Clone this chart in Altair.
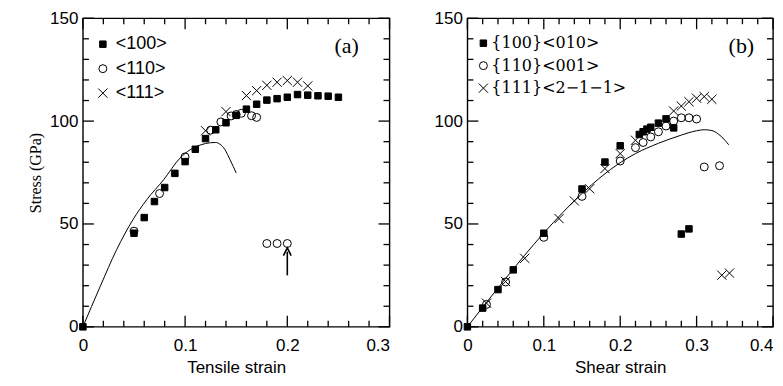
import altair as alt
import pandas as pd

# ---------------- Panel (a): tensile ----------------
a_series = ["<100>", "<110>", "<111>"]
a_sq_x = [0, 0.05, 0.06, 0.07, 0.08, 0.09, 0.10, 0.11, 0.12, 0.13, 0.14, 0.15, 0.16, 0.17, 0.18, 0.19, 0.20, 0.21, 0.22, 0.23, 0.24, 0.25]
a_sq_y = [0, 45.5, 53.1, 60.9, 67.7, 74.6, 80.3, 86.3, 91.5, 95.8, 99.2, 102.8, 105.8, 108.2, 110.2, 110.9, 111.6, 112.9, 112.6, 112.3, 112.1, 111.6]
a_ci_x = [0.05, 0.075, 0.10, 0.125, 0.135, 0.145, 0.15, 0.155, 0.165, 0.17, 0.18, 0.19, 0.20]
a_ci_y = [46.5, 64.8, 82.6, 95.6, 99.6, 102.5, 103.2, 103.8, 102.6, 101.8, 40.5, 40.5, 40.5]
a_cr_x = [0.12, 0.14, 0.16, 0.17, 0.18, 0.19, 0.20, 0.21, 0.22]
a_cr_y = [95.3, 104.6, 112.4, 114.8, 117.4, 118.9, 119.7, 118.9, 117.1]
a_curve_x = [0, 0.017, 0.033, 0.049, 0.0625, 0.079, 0.095, 0.105, 0.115, 0.125, 0.13, 0.134, 0.139, 0.144, 0.150]
a_curve_y = [0, 19.7, 37.5, 52.1, 61.8, 71.5, 82.0, 86.1, 88.4, 89.5, 89.6, 88.8, 86.1, 81.2, 74.8]
a_arrow_x = [0.2]
a_arrow_y = [25.0]
a_arrow_y2 = [36.5]
a_tag = ["(a)"]
a_tag_x = [0.258]
a_tag_y = [136.5]
a_x_major = [0, 0.1, 0.2, 0.3]
a_x_minor = [0.02, 0.04, 0.06, 0.08, 0.12, 0.14, 0.16, 0.18, 0.22, 0.24, 0.26, 0.28]

# ---------------- Panel (b): shear ----------------
b_series = ["{100}<010>", "{110}<001>", "{111}<2\u22121\u22121>"]
b_sq_x = [0, 0.02, 0.04, 0.06, 0.10, 0.15, 0.18, 0.20, 0.225, 0.23, 0.235, 0.24, 0.25, 0.26, 0.27, 0.28, 0.29]
b_sq_y = [0, 9.1, 18.1, 27.7, 45.5, 67.0, 80.1, 88.0, 93.5, 94.8, 96.1, 97.0, 99.0, 101.1, 96.7, 45.1, 47.6]
b_ci_x = [0.025, 0.05, 0.10, 0.15, 0.20, 0.22, 0.23, 0.24, 0.25, 0.26, 0.27, 0.28, 0.29, 0.30, 0.31, 0.33]
b_ci_y = [10.9, 21.8, 43.5, 63.4, 80.6, 87.1, 89.6, 92.3, 94.8, 97.6, 100.0, 101.6, 101.6, 101.0, 77.7, 78.3]
b_cr_x = [0.025, 0.05, 0.075, 0.12, 0.14, 0.16, 0.18, 0.20, 0.22, 0.27, 0.28, 0.29, 0.30, 0.31, 0.32, 0.333, 0.343]
b_cr_y = [11.5, 22.0, 33.3, 52.6, 61.2, 67.1, 76.9, 84.2, 90.7, 104.9, 107.3, 109.4, 111.1, 111.9, 110.6, 25.1, 26.1]
b_curve_x = [0, 0.05, 0.10, 0.15, 0.20, 0.22, 0.25, 0.28, 0.29, 0.30, 0.31, 0.32, 0.332, 0.342]
b_curve_y = [0, 23.5, 45.6, 64.8, 79.8, 84.2, 89.2, 93.2, 94.4, 95.3, 95.8, 95.4, 92.6, 88.5]
b_tag = ["(b)"]
b_tag_x = [0.3586]
b_tag_y = [136.5]
b_x_major = [0, 0.1, 0.2, 0.3, 0.4]
b_x_minor = [0.02, 0.04, 0.06, 0.08, 0.12, 0.14, 0.16, 0.18, 0.22, 0.24, 0.26, 0.28, 0.32, 0.34, 0.36, 0.38]

y_major = [0, 50, 100, 150]
y_minor = [10, 20, 30, 40, 60, 70, 80, 90, 110, 120, 130, 140]
y_dom = [0, 150]

SANS = "Liberation Sans"
SERIF = "Liberation Serif"
CROSS = "M-1,-1L1,1M-1,1L1,-1"
ARROWHEAD = "M-1,1L0,-1L1,1"
H = 309


def scatter_df(series, xs_list, ys_list):
    rows = []
    for s, xs, ys in zip(series, xs_list, ys_list):
        for x, y in zip(xs, ys):
            rows.append({"x": x, "y": y, "series": s})
    return pd.DataFrame(rows)


def label_axis_x(title, values, last):
    return alt.Axis(orient="bottom", values=values, format=".1~f", title=title,
                    ticks=False, domain=False, grid=False, labelFlush=False,
                    labelOverlap=False, labelPadding=11, labelFont=SANS,
                    labelFontSize=17, labelColor="black", titleFont=SANS,
                    titleFontSize=17, titleFontWeight="normal", titleColor="black",
                    titlePadding=6,
                    labelAlign={"condition": {"test": "datum.value > %s" % (last - 0.01),
                                              "value": "right"}, "value": "center"})


def label_axis_y(title, values):
    kw = dict(orient="left", values=values, format="d", ticks=False, domain=False,
              grid=False, labelOverlap=False, labelPadding=5, labelFont=SANS,
              labelFontSize=17, labelColor="black", labelFlush=False)
    if title:
        return alt.Axis(title=title, titleFont=SERIF, titleFontSize=16,
                        titleFontWeight="normal", titleColor="black",
                        titlePadding=6, **kw)
    return alt.Axis(title=None, **kw)


def tick_layers(xs, ys, xdom, x_major, x_minor):
    """Inward ticks on all four sides, positioned through the panel scales."""
    out = []
    for vals, ln in [(x_major, 11), (x_minor, 6)]:
        for edge, off in [(y_dom[0], -ln / 2), (y_dom[1], ln / 2)]:
            df = pd.DataFrame({"v": vals, "e": [edge] * len(vals)})
            out.append(alt.Chart(df).mark_tick(
                color="black", thickness=1.3, size=ln, orient="vertical", opacity=1,
                yOffset=off).encode(
                x=alt.X("v:Q", scale=xs, axis=None),
                y=alt.Y("e:Q", scale=ys, axis=None)))
    for vals, ln in [(y_major, 11), (y_minor, 6)]:
        for edge, off in [(xdom[0], ln / 2), (xdom[1], -ln / 2)]:
            df = pd.DataFrame({"v": vals, "e": [edge] * len(vals)})
            out.append(alt.Chart(df).mark_tick(
                color="black", thickness=1.3, size=ln, orient="horizontal", opacity=1,
                xOffset=off).encode(
                y=alt.Y("v:Q", scale=ys, axis=None),
                x=alt.X("e:Q", scale=xs, axis=None)))
    return out


def panel(series, shapes, sizes, fills, xs_list, ys_list, curve_x, curve_y,
          xdom, x_major, x_minor, xtitle, ytitle, tag, tag_x, tag_y,
          legend_x, legend_font, legend_fs, label_offset, W, extra=None):
    xs = alt.Scale(domain=xdom, nice=False, zero=False)
    ys = alt.Scale(domain=y_dom, nice=False, zero=False)
    sdf = scatter_df(series, xs_list, ys_list)
    cdf = pd.DataFrame({"x": curve_x, "y": curve_y})
    leg = alt.Legend(orient="none", legendX=legend_x, legendY=17, title=None,
                     padding=0, rowPadding=6.5, labelFont=legend_font,
                     labelFontSize=legend_fs, labelColor="black",
                     labelOffset=label_offset, symbolStrokeColor="black",
                     symbolStrokeWidth=1)
    pts = alt.Chart(sdf).mark_point(color="black", strokeWidth=1, opacity=1).encode(
        x=alt.X("x:Q", scale=xs, axis=label_axis_x(xtitle, x_major, xdom[1])),
        y=alt.Y("y:Q", scale=ys, axis=label_axis_y(ytitle, y_major)),
        shape=alt.Shape("series:N", scale=alt.Scale(domain=series, range=shapes), legend=leg),
        fill=alt.Fill("series:N", scale=alt.Scale(domain=series, range=fills), legend=leg),
        stroke=alt.Stroke("series:N", scale=alt.Scale(domain=series, range=["black"] * 3), legend=leg),
        size=alt.Size("series:N", scale=alt.Scale(domain=series, range=sizes), legend=leg),
    )
    curve = alt.Chart(cdf).mark_line(color="black", strokeWidth=1, interpolate="monotone").encode(
        x=alt.X("x:Q", scale=xs, axis=None),
        y=alt.Y("y:Q", scale=ys, axis=None),
    )
    tdf = pd.DataFrame({"x": tag_x, "y": tag_y, "t": tag})
    txt = alt.Chart(tdf).mark_text(font=SERIF, fontSize=22, color="black").encode(
        x=alt.X("x:Q", scale=xs, axis=None),
        y=alt.Y("y:Q", scale=ys, axis=None),
        text="t:N",
    )
    layers = [pts, curve, txt] + tick_layers(xs, ys, xdom, x_major, x_minor)
    if extra is not None:
        layers += extra(xs, ys)
    return alt.layer(*layers).resolve_axis(x="independent", y="independent").properties(
        width=W, height=H)


def arrow_layers(xs, ys):
    adf = pd.DataFrame({"x": a_arrow_x, "y": a_arrow_y, "y2": a_arrow_y2})
    shaft = alt.Chart(adf).mark_rule(color="black", strokeWidth=1.6).encode(
        x=alt.X("x:Q", scale=xs, axis=None),
        y=alt.Y("y:Q", scale=ys, axis=None),
        y2="y2:Q",
    )
    head = alt.Chart(adf).mark_point(shape=ARROWHEAD, filled=False, color="black",
                                     size=60, strokeWidth=1.6, opacity=1).encode(
        x=alt.X("x:Q", scale=xs, axis=None),
        y=alt.Y("y2:Q", scale=ys, axis=None),
    )
    return [shaft, head]


shapes = ["square", "circle", CROSS]
sizes = [42, 85, 42]
fills = ["black", "transparent", "transparent"]

pa = panel(a_series, shapes, sizes, fills, [a_sq_x, a_ci_x, a_cr_x], [a_sq_y, a_ci_y, a_cr_y],
           a_curve_x, a_curve_y, [0, 0.3], a_x_major, a_x_minor, "Tensile strain",
           "Stress (GPa)", a_tag, a_tag_x, a_tag_y, 11, SANS, 18, 4, 307, extra=arrow_layers)
pb = panel(b_series, shapes, sizes, fills, [b_sq_x, b_ci_x, b_cr_x], [b_sq_y, b_ci_y, b_cr_y],
           b_curve_x, b_curve_y, [0, 0.4], b_x_major, b_x_minor, "Shear strain",
           None, b_tag, b_tag_x, b_tag_y, 8, "DejaVu Serif", 16, 0, 306)

chart = alt.hconcat(pa, pb, spacing=78, bounds="flush").resolve_scale(
    x="independent", y="independent", shape="independent", fill="independent",
    stroke="independent", size="independent").resolve_legend(
    shape="independent", fill="independent", stroke="independent",
    size="independent").properties(
    padding={"left": 18, "top": 0, "right": 0, "bottom": 0}
).configure_view(stroke="black", strokeWidth=1.4).configure_axis(grid=False, domain=False)

chart.save("out.html", embed_options={"renderer": "svg", "actions": False})
